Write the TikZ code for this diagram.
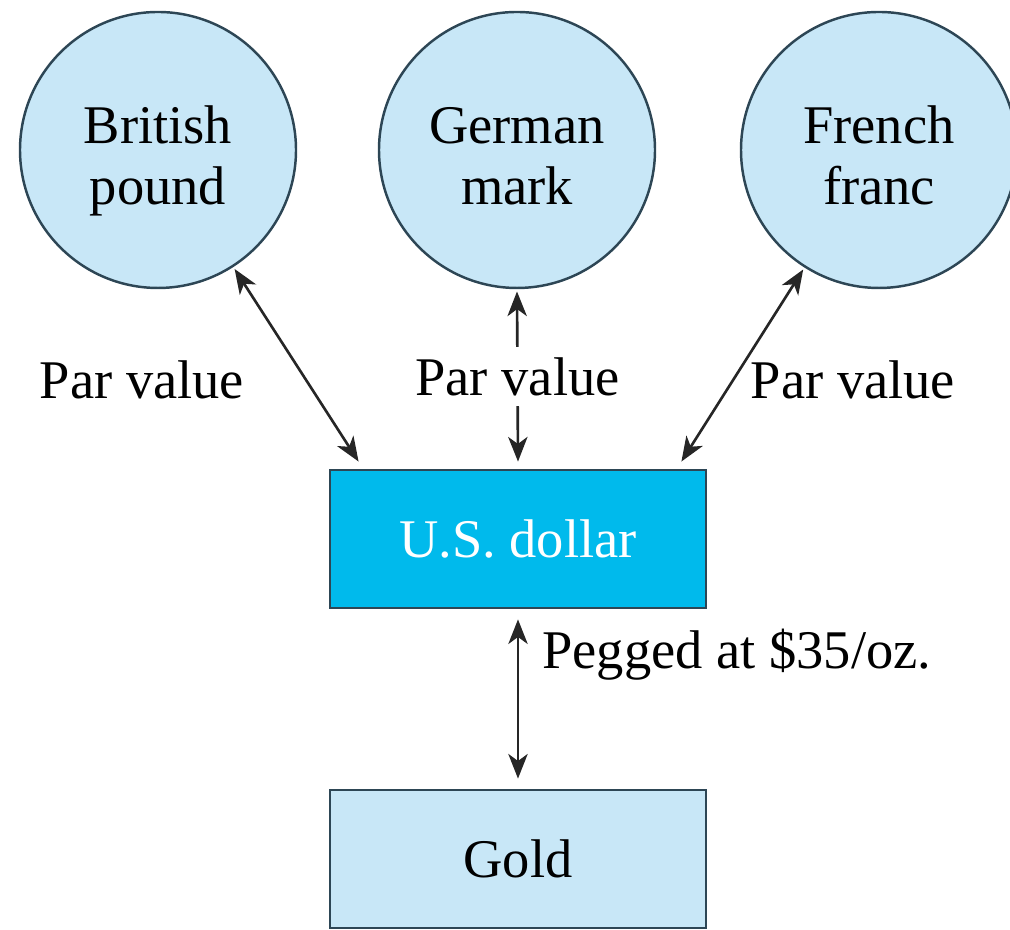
\documentclass[tikz,border=0pt]{standalone}
\usepackage{fontspec}
\setmainfont{Liberation Serif}
\usepackage{tikz}
\usetikzlibrary{shapes.geometric, arrows.meta}
\definecolor{lightblue}{RGB}{200,231,247}
\definecolor{dollarblue}{RGB}{0,186,236}
\definecolor{edgegray}{RGB}{45,70,85}
\tikzstyle{currency} = [circle, minimum size=2.76cm, inner sep=0pt, outer sep=1pt, align=center, text height=1.22cm, text depth=0.12cm, draw=edgegray, line width=0.7pt, fill=lightblue]
\tikzstyle{box} = [rectangle, minimum width=3.76cm, minimum height=1.38cm, draw=edgegray, line width=0.8pt]
\tikzstyle{arrow} = [line width=0.75pt, draw=black!85, {Stealth[length=7pt,width=5.5pt,inset=2pt]}-{Stealth[length=7pt,width=5.5pt,inset=2pt]}]

\begin{document}
\begin{tikzpicture}[font=\fontsize{15.5}{17.6}\selectfont]
\useasboundingbox (0,0) rectangle (10.1,9.3);

%currencies
\node[currency] (british) at (1.58,7.80) {British\\pound};
\node[currency] (german) at (5.17,7.80) {German\\mark};
\node[currency] (french) at (8.79,7.80) {French\\franc};

%dollar
\node[box, fill=dollarblue, text=white] (dollar) at (5.18,3.91) {U.S. dollar};

%gold
\node[box, fill=lightblue] (gold) at (5.18,0.71) {Gold};

%par values
\node (parleft) at (1.42,5.5) {Par value};
\node (parright) at (8.53,5.5) {Par value};
\draw[arrow] (british) -- ([xshift=0.3cm,yshift=2pt]dollar.north west);
\draw[arrow] (french) -- ([xshift=-0.26cm,yshift=2pt]dollar.north east);
\draw[arrow] ([yshift=2pt]dollar.north) -- (german.south)
  node[midway, fill=white, inner ysep=0.1cm] (parmid) {Par value};

%peg
\draw[arrow, shorten <=0.1cm, shorten >=0.1cm] (dollar.south) -- (gold.north);
\node[anchor=west] (peg) at (5.30,2.75) {Pegged at \$35/oz.};

\end{tikzpicture}
\end{document}
